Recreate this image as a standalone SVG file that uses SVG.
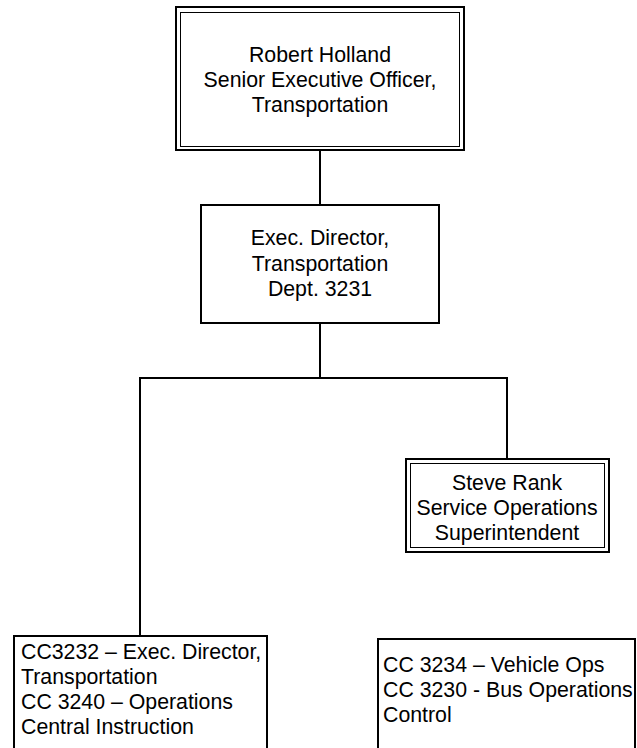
<svg xmlns="http://www.w3.org/2000/svg" width="637" height="748" viewBox="0 0 637 748">
<style>
.box{fill:#fff;stroke:#000;stroke-width:2}
.inner{fill:none;stroke:#000;stroke-width:1}
.conn{fill:none;stroke:#000;stroke-width:2}
text{font-family:"Liberation Sans",Arial,sans-serif;font-size:21.3px;fill:#000}
.c{text-anchor:middle}
</style>
<rect width="637" height="748" fill="#fff"/>
<g id="connectors">
<line class="conn" x1="320" y1="151" x2="320" y2="204"/>
<line class="conn" x1="320" y1="324" x2="320" y2="378"/>
<line class="conn" x1="139" y1="378" x2="508" y2="378"/>
<line class="conn" x1="140" y1="378" x2="140" y2="636"/>
<line class="conn" x1="507" y1="378" x2="507" y2="458"/>
</g>
<g id="robert">
<rect class="box" x="176" y="7" width="288" height="143"/>
<rect class="inner" x="180.5" y="12.5" width="279" height="134"/>
<text class="c" x="320" y="62">Robert Holland</text>
<text class="c" x="320" y="87">Senior Executive Officer,</text>
<text class="c" x="320" y="112">Transportation</text>
</g>
<g id="exec">
<rect class="box" x="201" y="205" width="238" height="118"/>
<text class="c" x="320" y="245">Exec. Director,</text>
<text class="c" x="320" y="271">Transportation</text>
<text class="c" x="320" y="296">Dept. 3231</text>
</g>
<g id="steve">
<rect class="box" x="406" y="459" width="203" height="93"/>
<rect class="inner" x="410.5" y="463.5" width="194" height="84"/>
<text class="c" x="507" y="490">Steve Rank</text>
<text class="c" x="507" y="515">Service Operations</text>
<text class="c" x="507" y="540">Superintendent</text>
</g>
<g id="cc3232">
<rect class="box" x="14" y="636" width="253" height="120"/>
<text x="21" y="659">CC3232 – Exec. Director,</text>
<text x="21" y="684">Transportation</text>
<text x="21" y="709">CC 3240 – Operations</text>
<text x="21" y="734">Central Instruction</text>
</g>
<g id="cc3234">
<rect class="box" x="378" y="639" width="257" height="120"/>
<text x="383" y="672">CC 3234 – Vehicle Ops</text>
<text x="383" y="697">CC 3230 - Bus Operations</text>
<text x="383" y="722">Control</text>
</g>
</svg>
